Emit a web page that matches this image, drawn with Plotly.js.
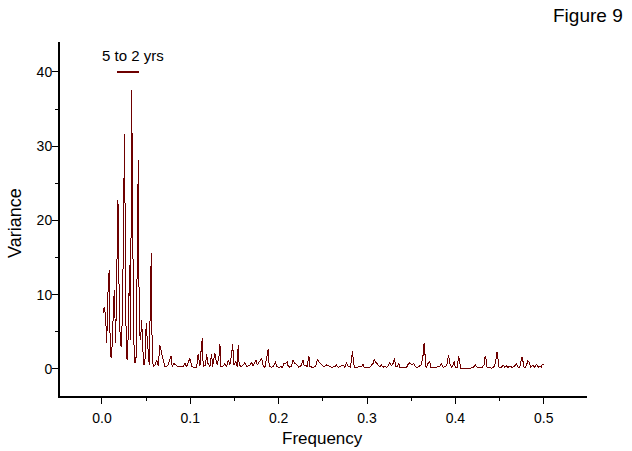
<!DOCTYPE html>
<html>
<head>
<meta charset="utf-8">
<script src="https://cdn.plot.ly/plotly-3.0.1.min.js"></script>
<style>
html,body{margin:0;padding:0;background:#fff;}
#chart{width:632px;height:451px;}
#chart .js-line, #chart .xlines-above, #chart .ylines-above, #chart path.xtick, #chart path.ytick { shape-rendering: crispEdges; }
</style>
</head>
<body>
<div id="chart"></div>
<script>
// Periodogram: frequency (cycles per month) and variance
const frequency = [
  0.0015,0.0026,0.0042,0.0053,0.0064,0.0072,0.0083,0.0094,0.0109,0.0128,0.0139,0.0155,0.0170,0.0181,0.0192,0.0207,
  0.0219,0.0234,0.0245,0.0256,0.0268,0.0279,0.0290,0.0302,0.0313,0.0324,0.0336,0.0347,0.0358,0.0373,0.0388,0.0400,
  0.0411,0.0422,0.0437,0.0449,0.0460,0.0471,0.0486,0.0501,0.0513,0.0524,0.0535,0.0547,0.0558,0.0569,0.0584,
  0.0600,0.0619,0.0637,0.0656,0.0667,0.0682,0.0693,0.0713,0.0732,0.0750,0.0769,0.0781,0.0795,0.0814,0.0834,0.0863,
  0.0902,0.0920,0.0939,0.0958,0.0995,0.1015,0.1033,0.1071,0.1089,0.1109,0.1120,0.1135,0.1146,0.1173,0.1184,0.1199,
  0.1222,0.1241,0.1252,0.1278,0.1290,0.1304,0.1324,0.1335,0.1346,0.1372,0.1391,0.1411,0.1429,0.1448,0.1467,0.1479,
  0.1493,0.1516,0.1531,0.1542,0.1553,0.1580,0.1618,0.1637,0.1674,0.1693,0.1712,0.1742,0.1757,0.1787,0.1807,0.1825,
  0.1844,0.1863,0.1881,0.1893,0.1920,0.1938,0.1965,0.1976,0.2002,0.2025,0.2040,0.2062,0.2078,0.2096,0.2107,0.2127,
  0.2146,0.2164,0.2183,0.2209,0.2228,0.2251,0.2277,0.2288,0.2308,0.2322,0.2342,0.2353,0.2372,0.2390,0.2417,0.2440,
  0.2455,0.2474,0.2492,0.2511,0.2542,0.2560,0.2598,0.2636,0.2655,0.2673,0.2711,0.2730,0.2749,0.2768,0.2786,0.2813,
  0.2836,0.2847,0.2862,0.2899,0.2938,0.2956,0.2967,0.2994,0.3032,0.3069,0.3080,0.3092,0.3107,0.3126,0.3145,0.3164,
  0.3182,0.3201,0.3221,0.3239,0.3258,0.3277,0.3295,0.3311,0.3322,0.3340,0.3360,0.3371,0.3408,0.3447,0.3476,0.3492,
  0.3510,0.3529,0.3549,0.3567,0.3589,0.3616,0.3635,0.3646,0.3657,0.3669,0.3691,0.3710,0.3722,0.3748,0.3786,0.3824,
  0.3843,0.3861,0.3888,0.3906,0.3922,0.3937,0.3956,0.3974,0.3985,0.4001,0.4019,0.4038,0.4050,0.4061,0.4087,0.4126,
  0.4163,0.4200,0.4227,0.4245,0.4276,0.4302,0.4325,0.4336,0.4347,0.4359,0.4389,0.4408,0.4438,0.4454,0.4472,0.4483,
  0.4494,0.4521,0.4540,0.4559,0.4578,0.4596,0.4615,0.4641,0.4672,0.4691,0.4709,0.4728,0.4754,0.4766,0.4777,0.4796,
  0.4822,0.4838,0.4853,0.4879,0.4898,0.4921,0.4936,0.4958,0.4974,0.4985,0.5000
];
const variance = [
  7.5,8.4,7.0,3.5,7.9,12.2,13.3,1.7,1.5,8.4,10.7,3.5,14.7,22.7,12.0,3.5,
  3.0,8.2,21.6,31.6,8.4,1.5,1.2,7.5,14.0,3.9,37.6,22.1,4.4,0.8,1.7,16.0,
  28.1,5.3,3.9,6.6,1.7,0.5,0.8,6.2,3.9,1.2,0.5,8.6,15.6,1.2,0.3,
  0.54,1.21,0.40,3.20,2.60,2.00,1.21,0.31,0.31,0.54,1.21,1.75,0.31,0.76,0.54,0.31,
  0.40,0.40,0.76,0.31,1.44,0.40,0.22,0.22,2.02,0.40,2.20,4.13,0.31,0.54,2.02,0.76,
  0.31,2.02,0.31,2.20,1.21,0.54,1.66,3.37,0.40,0.40,0.76,0.31,1.21,0.54,1.89,3.37,
  0.54,0.99,0.31,3.23,0.54,0.31,0.85,0.31,0.54,0.85,0.40,1.21,0.54,0.99,1.44,0.40,
  0.22,1.44,2.65,0.40,0.22,0.31,0.99,0.40,0.22,0.31,0.22,0.76,0.76,0.99,0.40,0.22,
  0.40,1.21,0.76,0.54,0.22,0.40,1.21,0.40,0.54,0.31,1.75,0.31,0.22,0.22,0.31,1.30,
  0.99,0.76,0.54,0.31,0.54,0.40,0.22,0.31,0.54,0.22,0.40,0.54,0.22,0.85,0.40,0.22,
  2.47,0.76,0.22,0.22,0.31,0.67,0.22,0.22,0.22,0.76,1.30,0.99,0.76,0.54,0.31,0.54,
  0.22,0.40,0.22,0.40,0.85,0.40,0.76,1.44,0.40,0.31,0.76,0.22,0.22,0.22,0.85,0.67,
  0.54,0.76,0.31,0.22,0.40,0.54,1.89,3.46,1.89,0.09,0.76,0.99,0.22,0.22,0.22,0.40,
  0.76,0.22,0.31,0.67,1.89,0.76,0.22,0.54,0.99,0.22,0.22,1.75,0.99,0.09,0.09,0.09,
  0.09,0.22,0.54,0.22,0.22,0.22,0.54,1.66,1.30,0.22,0.22,0.09,0.31,0.76,2.33,1.21,
  0.22,0.22,0.54,0.22,0.40,0.22,0.40,0.22,0.40,0.76,0.22,0.22,1.66,0.99,0.22,0.22,
  1.12,0.85,0.22,0.54,0.22,0.67,0.22,0.40,0.22,0.67,0.60
];
// Band marker: periods of 5 to 2 years (monthly data)
const bandYears = [5, 2];
const bandLevel = 40;
const bandLabel = "5 to 2 yrs";
const xTickValues = [0.0, 0.1, 0.2, 0.3, 0.4, 0.5];
const yTickValues = [0, 10, 20, 30, 40];
const xTitle = "Frequency";
const yTitle = "Variance";
const figureLabel = "Figure 9";

const lineColor = "#6e0000";
const bandFreq = bandYears.map(y => 1 / (12 * y));

const regular = "Liberation Sans, Arial, sans-serif";

const data = [
  {
    x: frequency, y: variance, type: "scatter", mode: "lines",
    line: { color: lineColor, width: 1 }, hoverinfo: "skip", showlegend: false
  },
  {
    x: bandFreq, y: [bandLevel, bandLevel], type: "scatter", mode: "lines",
    line: { color: lineColor, width: 2 }, hoverinfo: "skip", showlegend: false
  }
];

const layout = {
  width: 632, height: 451,
  margin: { l: 60, r: 45, t: 42, b: 55 },
  paper_bgcolor: "#fff", plot_bgcolor: "#fff",
  font: { family: regular, color: "#000", size: 12 },
  xaxis: {
    range: [-0.0475, 0.549],
    tickvals: xTickValues, tickformat: ".1f",
    ticks: "outside", ticklen: 6, tickwidth: 1, tickcolor: "#000",
    minor: { dtick: 0.05, tick0: 0, ticks: "outside", ticklen: 3, tickcolor: "#000", showgrid: false },
    showline: true, linecolor: "#000", linewidth: 2,
    showgrid: false, zeroline: false,
    ticklabelstandoff: 2,
    tickfont: { size: 14, family: regular }
  },
  yaxis: {
    range: [-3.64, 44.04],
    tickvals: yTickValues,
    ticks: "outside", ticklen: 6, tickwidth: 1, tickcolor: "#000",
    minor: { dtick: 5, tick0: 0, ticks: "outside", ticklen: 3, tickcolor: "#000", showgrid: false },
    showline: true, linecolor: "#000", linewidth: 2,
    showgrid: false, zeroline: false,
    ticklabelstandoff: -3,
    tickfont: { size: 14, family: regular }
  },
  annotations: [
    {
      text: bandLabel, xref: "x", yref: "y",
      x: (bandFreq[0] + bandFreq[1]) / 2 + 0.0064, y: bandLevel, yshift: 16,
      showarrow: false, font: { size: 15, family: regular }
    },
    {
      text: xTitle, xref: "paper", yref: "paper",
      x: 0.498, y: 0, yanchor: "middle", yshift: -42,
      showarrow: false, font: { size: 17, family: regular }
    },
    {
      text: yTitle, xref: "paper", yref: "paper", textangle: -90,
      x: 0, xanchor: "center", xshift: -45, y: 0.489, yanchor: "middle",
      showarrow: false, font: { size: 18, family: regular }
    },
    {
      text: figureLabel, xref: "paper", yref: "paper",
      x: 1, xanchor: "right", xshift: 38, y: 1, yanchor: "middle", yshift: 27,
      showarrow: false, font: { size: 19, family: regular }
    }
  ]
};

Plotly.newPlot("chart", data, layout, { displayModeBar: false, staticPlot: true });
</script>
</body>
</html>
